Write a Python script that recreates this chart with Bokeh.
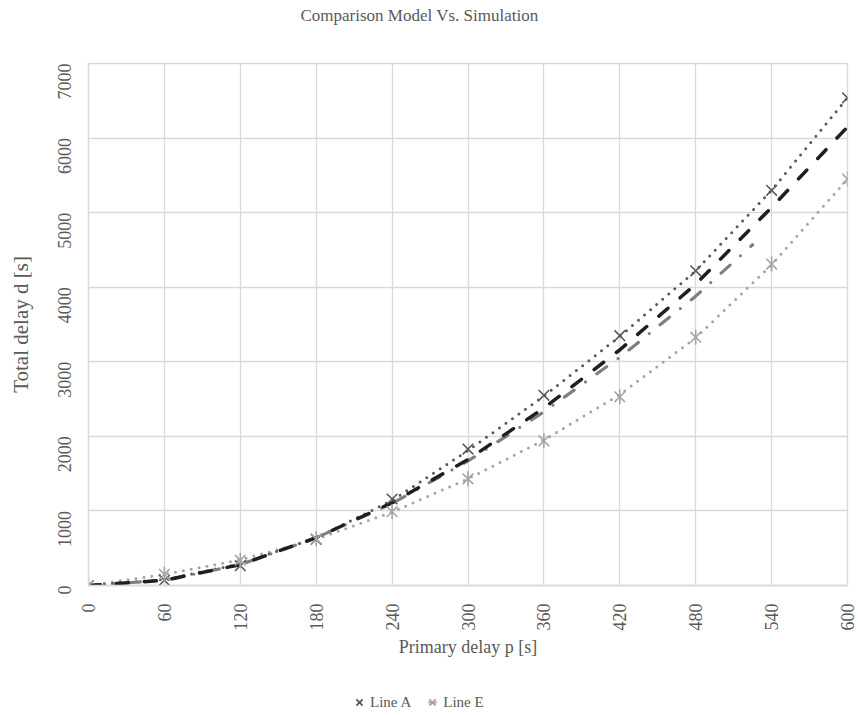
import math

from bokeh.plotting import figure
from bokeh.layouts import column
from bokeh.models import Range1d, FixedTicker, Legend, LegendItem, Label
from bokeh.embed import file_html
from bokeh.resources import INLINE

# Primary delay p [s] at which the simulations were run
primary_delay = [0, 60, 120, 180, 240, 300, 360, 420, 480, 540, 600]

# Simulated total delay d [s]
line_a = [0, 70, 265, 620, 1160, 1830, 2550, 3350, 4220, 5300, 6540]
line_e = [0, 150, 340, 625, 990, 1430, 1940, 2530, 3330, 4310, 5450]

# Polynomial trend of each simulated series
trend_a = [0, 80, 290, 640, 1140, 1810, 2540, 3340, 4220, 5300, 6540]
trend_e = [0, 150, 345, 620, 985, 1430, 1950, 2560, 3320, 4300, 5450]

# Analytical model curves
model_full = [0, 70, 280, 640, 1110, 1690, 2380, 3160, 4040, 5070, 6150]
model_short_p = [0, 60, 120, 180, 240, 300, 360, 420, 480, 525]
model_short = [0, 70, 280, 640, 1100, 1670, 2330, 3060, 3880, 4570]

x_ticks = [0, 60, 120, 180, 240, 300, 360, 420, 480, 540, 600]
y_ticks = [0, 1000, 2000, 3000, 4000, 5000, 6000, 7000]

TITLE = "Comparison Model Vs. Simulation"
TEXT = "#595959"
GRID = "#d9d9d9"
FONT = "Liberation Serif"
COLOR_A = "#595959"
COLOR_E = "#a5a5a5"

# ---- title strip ----
head = figure(
    width=858, height=40, x_range=Range1d(0, 1), y_range=Range1d(0, 1),
    output_backend="svg", toolbar_location=None, title=None,
    x_axis_location=None, y_axis_location=None,
    min_border=0, outline_line_color=None,
    background_fill_color="white", border_fill_color="white",
)
head.grid.visible = False
head.add_layout(Label(
    x=212, y=25, x_units="screen", y_units="screen", text=TITLE,
    text_font=FONT, text_font_size="17px", text_color=TEXT,
    text_align="left", text_baseline="middle",
))

# ---- main chart ----
p = figure(
    width=858, height=645, title=None,
    x_range=Range1d(0, 600), y_range=Range1d(0, 7000),
    output_backend="svg", toolbar_location=None,
    min_border_left=88, min_border_right=11,
    min_border_top=23, min_border_bottom=100,
    background_fill_color="white", border_fill_color="white",
)

p.outline_line_color = GRID
p.outline_line_width = 1.3

for ax in (p.xaxis[0], p.yaxis[0]):
    ax.axis_line_color = GRID
    ax.axis_line_width = 1.3
    ax.major_tick_line_color = None
    ax.minor_tick_line_color = None
    ax.major_label_text_font = FONT
    ax.major_label_text_font_size = "18px"
    ax.major_label_text_color = TEXT
    ax.major_label_orientation = math.pi / 2
    ax.axis_label_text_font = FONT
    ax.axis_label_text_font_style = "normal"
    ax.axis_label_text_color = TEXT

p.xaxis.ticker = FixedTicker(ticks=x_ticks)
p.yaxis.ticker = FixedTicker(ticks=y_ticks)
p.xaxis.axis_label = "Primary delay p [s]"
p.yaxis.axis_label = "Total delay d [s]"
p.xaxis.axis_label_text_font_size = "18px"
p.yaxis.axis_label_text_font_size = "21px"
p.xaxis.major_label_standoff = 12
p.xaxis.axis_label_standoff = 3
p.yaxis.major_label_standoff = 18
p.yaxis.axis_label_standoff = 16

p.grid.grid_line_color = GRID
p.grid.grid_line_width = 1.3
p.xgrid.ticker = FixedTicker(ticks=x_ticks)
p.ygrid.ticker = FixedTicker(ticks=y_ticks)

# trend lines (dotted)
p.line(primary_delay, trend_e, line_color=COLOR_E, line_width=3,
       line_dash="0 8", line_cap="round")
p.line(primary_delay, trend_a, line_color=COLOR_A, line_width=3,
       line_dash="0 8", line_cap="round")

# model curves
p.line(model_short_p, model_short, line_color="#7f7f7f", line_width=3.2,
       line_dash="12 14 0 14", line_cap="round")
p.line(primary_delay, model_full, line_color="#1f1f1f", line_width=3.5,
       line_dash="12 16", line_cap="round")

# simulated points
p.scatter(primary_delay, line_a, marker="x", size=15,
          line_color=COLOR_A, line_width=1.6)
p.scatter(primary_delay, line_e, marker="x", size=15,
          line_color=COLOR_E, line_width=1.6)
p.scatter(primary_delay, line_e, marker="dash", size=15, angle=math.pi / 2,
          line_color=COLOR_E, line_width=1.6)

# ---- legend strip ----
# same series drawn again, kept outside the strip's visible range so only
# their legend keys show
leg = figure(
    width=858, height=30, x_range=Range1d(-2, -1), y_range=Range1d(-2, -1),
    output_backend="svg", toolbar_location=None, title=None,
    x_axis_location=None, y_axis_location=None,
    min_border=0, outline_line_color=None,
    background_fill_color="white", border_fill_color="white",
)
leg.grid.visible = False

ka = leg.scatter(primary_delay, line_a, marker="x", size=15,
                 line_color=COLOR_A, line_width=1.8)
ke_x = leg.scatter(primary_delay, line_e, marker="x", size=15,
                   line_color=COLOR_E, line_width=1.8)
ke_v = leg.scatter(primary_delay, line_e, marker="dash", size=15, angle=math.pi / 2,
                   line_color=COLOR_E, line_width=1.8)

legend = Legend(
    items=[LegendItem(label="Line A", renderers=[ka]),
           LegendItem(label="Line E", renderers=[ke_x, ke_v])],
    orientation="horizontal", location=(260, 2),
    label_text_font=FONT, label_text_font_size="15px", label_text_color=TEXT,
    border_line_color=None, background_fill_alpha=0,
    glyph_width=22, glyph_height=22, label_standoff=0, spacing=10,
    margin=0, padding=2,
)
leg.add_layout(legend, "center")

open("out.html", "w").write(file_html(column(head, p, leg, spacing=0), INLINE))
